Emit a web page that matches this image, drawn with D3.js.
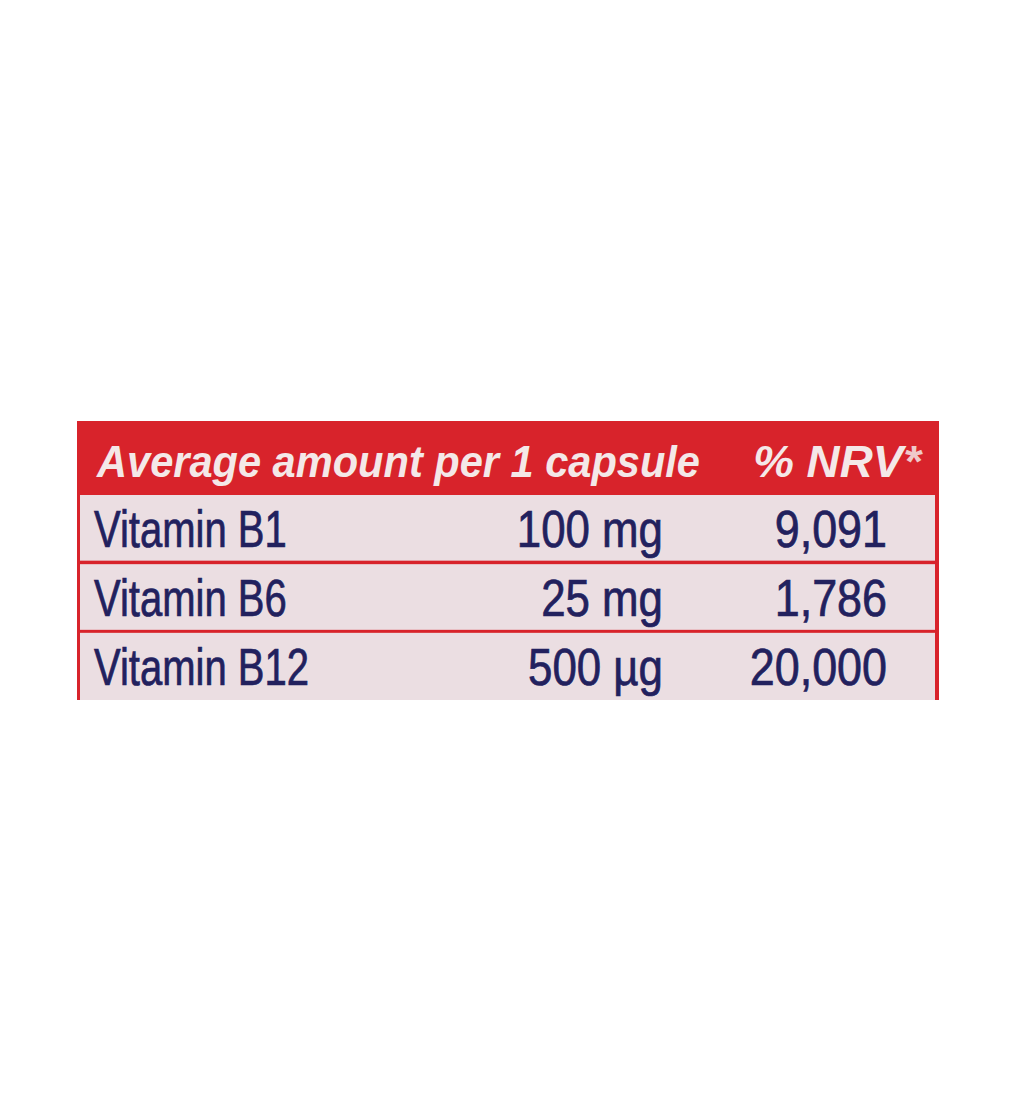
<!DOCTYPE html>
<html><head><meta charset="utf-8">
<script src="https://cdn.jsdelivr.net/npm/d3@7/dist/d3.min.js"></script>
<style>html,body{margin:0;padding:0;background:#fff;}</style>
</head><body>
<script>
const headers = ["Average amount per 1 capsule", "% NRV*"];
const nutrients = ["Vitamin B1", "Vitamin B6", "Vitamin B12"];
const amounts = ["100 mg", "25 mg", "500 µg"];
const nrv = ["9,091", "1,786", "20,000"];

const W = 1014, H = 1118;
const svg = d3.select("body").append("svg").attr("width", W).attr("height", H);
const red = "#d8232b", pink = "#ebdee2", navy = "#22215e", head = "#f4e8e8";
const box = {x0: 77, x1: 939, y0: 421, yh: 494, y1: 700};
const font = "'Liberation Sans',Arial,Helvetica,sans-serif";

svg.append("rect").attr("x", box.x0).attr("y", box.y0).attr("width", box.x1 - box.x0)
  .attr("height", box.y1 - box.y0).attr("fill", red);

const y = d3.scaleBand().domain(nutrients).range([box.yh, box.y1]).paddingInner(0);

svg.selectAll("rect.row").data(nutrients).join("rect").attr("class", "row")
  .attr("x", box.x0 + 3).attr("width", box.x1 - box.x0 - 7)
  .attr("y", (d, i) => y(d) + (i === 0 ? 1 : 1.5))
  .attr("height", (d, i) => y.bandwidth() - (i === 2 ? 1.5 : 3))
  .attr("fill", pink);

function txt(x, yy, s, anchor, size, weight, style, fill, sx, sw) {
  return svg.append("text").attr("transform", `translate(${x},${yy}) scale(${sx},1)`)
    .attr("text-anchor", anchor).attr("font-family", font).attr("font-size", size)
    .attr("font-weight", weight).attr("font-style", style).attr("fill", fill)
    .attr("stroke", fill).attr("stroke-width", sw || 0).text(s);
}
txt(97, 477, headers[0], "start", 44, "bold", "italic", head, 0.945);
const nrvHead = txt(921, 477, "", "end", 44, "bold", "italic", head, 1.04);
nrvHead.append("tspan").text(headers[1].slice(0, -1));
nrvHead.append("tspan").attr("fill-opacity", 0.85).attr("stroke-width", 0).text(headers[1].slice(-1));

nutrients.forEach((n, i) => {
  const by = y(n) + y.bandwidth() / 2 + 19;
  txt(94, by, n, "start", 51, "normal", "normal", navy, 0.785, 0.7);
  txt(663, by, amounts[i], "end", 51, "normal", "normal", navy, 0.86, 0.7);
  txt(887, by, nrv[i], "end", 51, "normal", "normal", navy, 0.88, 0.7);
});
</script>
</body></html>
